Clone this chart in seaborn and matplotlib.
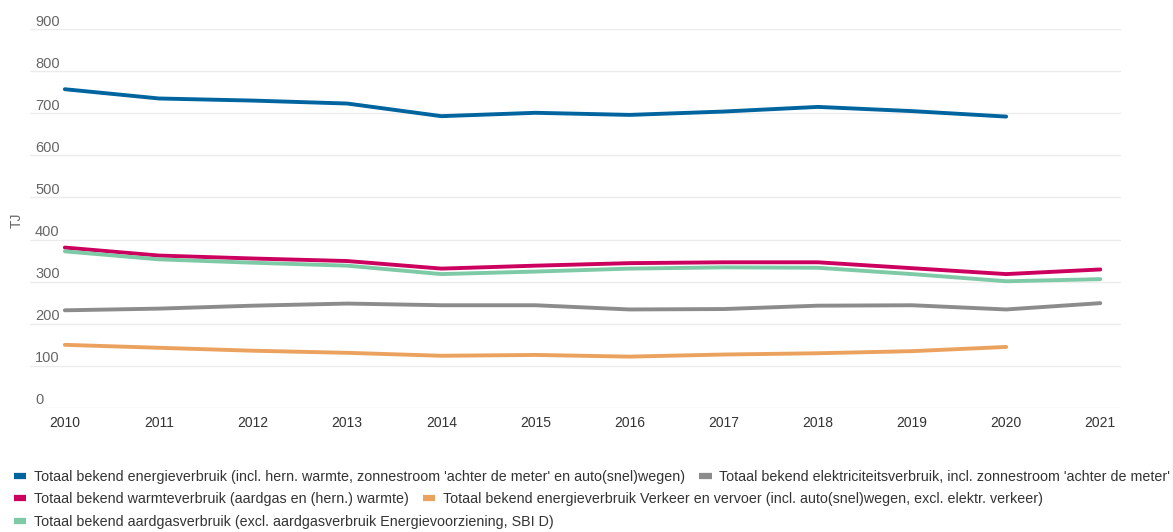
import pandas as pd
import matplotlib.pyplot as plt
import seaborn as sns
from matplotlib.lines import Line2D
from matplotlib.transforms import ScaledTranslation

years = list(range(2010, 2022))

energie = [757, 735, 730, 723, 693, 701, 696, 704, 715, 705, 692, None]
elektriciteit = [232, 236, 243, 248, 244, 244, 234, 235, 243, 244, 234, 249]
warmte = [381, 362, 355, 349, 331, 338, 344, 346, 346, 332, 318, 329]
verkeer = [150, 143, 136, 131, 124, 126, 122, 127, 130, 135, 145, None]
aardgas = [372, 353, 345, 338, 318, 324, 331, 334, 333, 318, 301, 306]

series_names = [
    "Totaal bekend energieverbruik (incl. hern. warmte, zonnestroom 'achter de meter' en auto(snel)wegen)",
    "Totaal bekend elektriciteitsverbruik, incl. zonnestroom 'achter de meter'",
    "Totaal bekend warmteverbruik (aardgas en (hern.) warmte)",
    "Totaal bekend energieverbruik Verkeer en vervoer (incl. auto(snel)wegen, excl. elektr. verkeer)",
    "Totaal bekend aardgasverbruik (excl. aardgasverbruik Energievoorziening, SBI D)",
]
series_values = [energie, elektriciteit, warmte, verkeer, aardgas]
colors = ["#00659f", "#8c8c8c", "#cc005e", "#eba25e", "#7fcaa6"]
y_ticks = list(range(0, 1000, 100))

rows = []
for name, vals in zip(series_names, series_values):
    for yr, v in zip(years, vals):
        if v is not None:
            rows.append({"jaar": yr, "serie": name, "TJ": v})
df = pd.DataFrame(rows)

sns.set_style("white")
plt.rcParams["font.family"] = ["Liberation Sans", "DejaVu Sans"]

fig = plt.figure(figsize=(11.73, 5.32), dpi=100)
ax = fig.add_axes([30 / 1173, 1 - 408 / 532, (1121 - 30) / 1173, (408 - 29) / 532])

sns.lineplot(data=df, x="jaar", y="TJ", hue="serie", hue_order=series_names,
             palette=colors, linewidth=2.8, legend=False, ax=ax)

ax.set_xlim(2009.63, 2021.22)
ax.set_ylim(0, 900)
ax.set_yticks(y_ticks)
ax.set_xticks(years)
ax.set_xticklabels([str(y) for y in years])
ax.grid(axis="y", color="#ececec", linewidth=1)
ax.set_axisbelow(True)
for s in ax.spines.values():
    s.set_visible(False)
ax.tick_params(axis="both", length=0)
ax.tick_params(axis="x", labelsize=10, labelcolor="#333333", pad=6)
ax.tick_params(axis="y", labelsize=10.5, labelcolor="#666666", pad=0)
offset = ScaledTranslation(5 / 100, 9 / 100, fig.dpi_scale_trans)
for lab in ax.get_yticklabels():
    lab.set_horizontalalignment("left")
    lab.set_transform(lab.get_transform() + offset)
ax.set_xlabel("")
ax.set_ylabel("")
fig.text(17 / 1173, 1 - 220 / 532, "TJ", rotation=90, ha="center", va="center",
         fontsize=10, color="#666666")

handles = [Line2D([0], [0], color=c, linewidth=4.5, solid_capstyle="butt") for c in colors]
legend_rows = [([0, 1], 477), ([2, 3], 499), ([4], 522)]
for idx, ypix in legend_rows:
    leg = fig.legend([handles[i] for i in idx], [series_names[i] for i in idx],
                     loc="center left", bbox_to_anchor=(14 / 1173, 1 - ypix / 532),
                     ncol=len(idx), frameon=False, fontsize=10.3, handlelength=0.85,
                     handletextpad=0.55, columnspacing=1.0, borderpad=0, borderaxespad=0)
    for t in leg.get_texts():
        t.set_color("#333333")

fig.savefig("out.png", dpi=100)
